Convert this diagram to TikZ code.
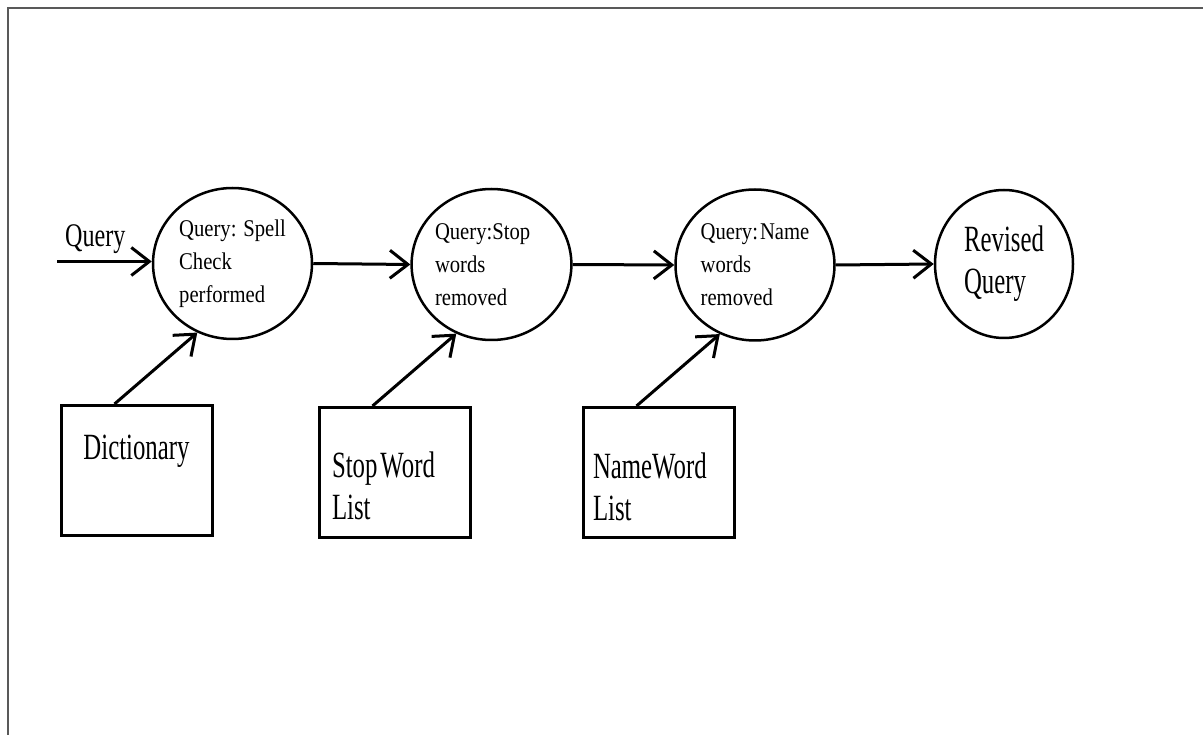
\documentclass[tikz,border=0pt]{standalone}
\usepackage{fontspec}
\setmainfont{Liberation Serif}
\newfontfamily\circfont{Liberation Serif}[FakeStretch=0.86]
\newfontfamily\boxfont{Liberation Serif}[FakeStretch=0.67]
\newfontfamily\qfont{Liberation Serif}[FakeStretch=0.73]
\usetikzlibrary{shapes.geometric,arrows.meta}
\begin{document}
\begin{tikzpicture}[x=1pt,y=-1pt,
  proc/.style={ellipse, draw, line width=2.5pt, inner sep=0pt,
    minimum width=159pt, minimum height=151pt, align=left,
    font=\circfont\fontsize{24}{33}\selectfont},
  store/.style={rectangle, draw, line width=3pt, minimum width=151pt,
    minimum height=130pt, inner xsep=13pt, inner ysep=2pt, text width=125pt,
    align=left, font=\boxfont\fontsize{37}{42}\selectfont},
  arr/.style={line width=3pt, -{Straight Barb[length=18pt,width=28pt]}},
  framel/.style={draw=black!65, line width=2pt}]
\useasboundingbox (0,0) rectangle (1203,735);
\draw[framel] (7.5,735) -- (7.5,8.5) -- (1203,8.5);

\node[proc] (c1) at (232.5,263.5) {Query: Spell\\Check\\performed};
\node[proc, text width=113pt] (c2) at (491.5,264.5) {Query:Stop\\words\\removed};
\node[proc] (c3) at (755,265) {Query:\hspace{2pt}Name\\words\\removed};
\node[proc, minimum width=138pt, minimum height=148pt,
  font=\boxfont\fontsize{37}{42}\selectfont] (c4) at (1004,264) {Revised\\Query};

\node[store, align=center, text depth=46pt] (b1) at (136.5,470.5) {Dictionary};
\node[store, text depth=16pt] (b2) at (394.5,472.5) {Stop\hspace{3pt}Word\\List};
\node[store, inner xsep=10pt, text width=131pt, text depth=14pt] (b3) at (658.5,472.5) {NameWord\\List};

\coordinate (qs) at (57,261.5);
\node[anchor=base west, inner sep=0pt, font=\qfont\fontsize{33}{40}\selectfont] (ql) at (65,247) {Query};

\draw[arr] (qs) -- (qs -| c1.west);
\draw[arr] (c1.east) -- (c2.west);
\draw[arr] (c2.east) -- (c3.west);
\draw[arr] (c3.east) -- (c4.west);

\draw[arr] ([xshift=55pt]b1.north west) -- (c1.243);
\draw[arr] ([xshift=55pt]b2.north west) -- (c2.243);
\draw[arr] ([xshift=55pt]b3.north west) -- (c3.243);
\end{tikzpicture}
\end{document}
